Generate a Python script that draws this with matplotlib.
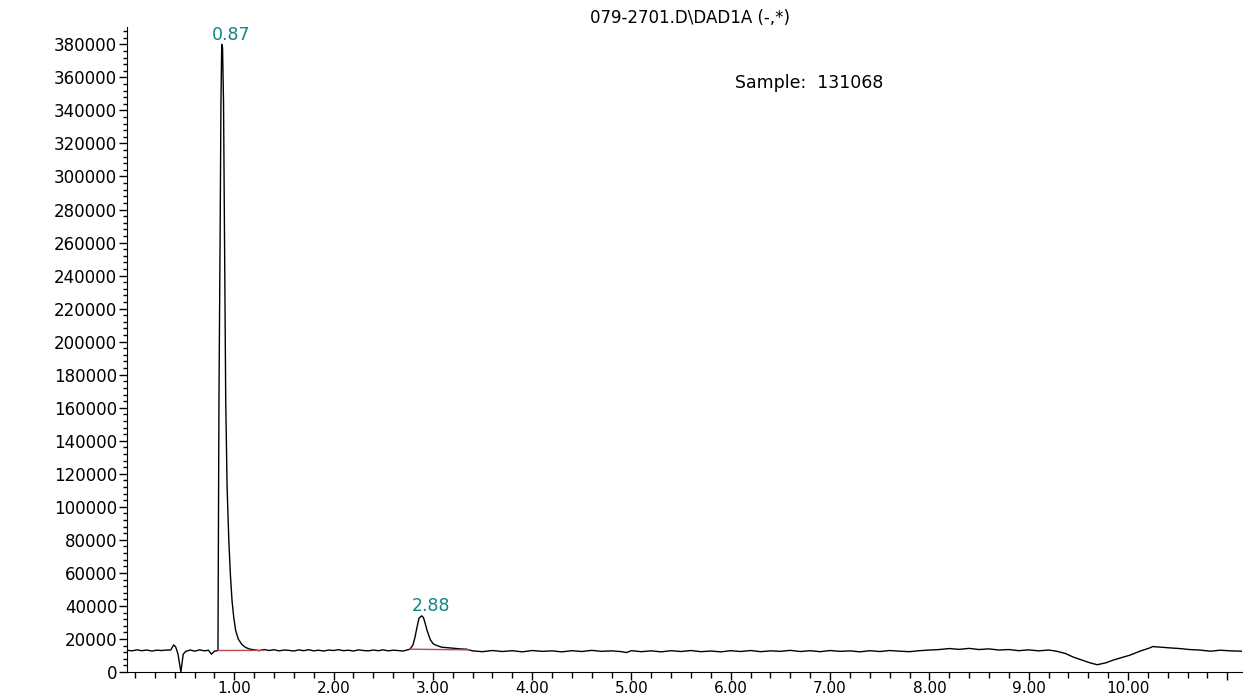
import matplotlib.pyplot as plt
from matplotlib.ticker import MultipleLocator

# chromatogram trace, piece by piece (time in min, signal)
t_front = [-0.08, -0.03, 0.02, 0.07, 0.12, 0.17, 0.22, 0.27, 0.32, 0.36, 0.39,
           0.41, 0.433, 0.463, 0.486, 0.514, 0.56, 0.6, 0.65, 0.7, 0.74, 0.77,
           0.80]
v_front = [13200, 12800, 13400, 12900, 13300, 12700, 13200, 13000, 13300,
           13300, 16400, 15200, 11000, 0, 10800, 12600, 13300, 12600, 13400,
           12800, 13200, 10800, 12600]

t_peak1 = [0.836, 0.846, 0.858, 0.866, 0.874, 0.882, 0.892, 0.902, 0.914,
           0.928, 0.945, 0.962, 0.978, 0.995, 1.014, 1.04, 1.075, 1.11, 1.158]
v_peak1 = [13000, 165000, 267000, 345000, 380000, 378000, 345000, 267000,
           165000, 112000, 80000, 58000, 43000, 33000, 25200, 20000, 16800,
           15000, 13800]

t_mid = [1.2, 1.25, 1.3, 1.35, 1.4, 1.45, 1.5, 1.55, 1.6, 1.65, 1.7, 1.75,
         1.8, 1.85, 1.9, 1.95, 2.0, 2.05, 2.1, 2.15, 2.2, 2.25, 2.3, 2.35,
         2.4, 2.45, 2.5, 2.55, 2.6, 2.65, 2.7, 2.74]
v_mid = [13500, 12900, 13600, 13000, 13500, 12800, 13300, 13100, 12700,
         13400, 12900, 13500, 12800, 13200, 12700, 13300, 13000, 13500, 12900,
         13200, 12700, 13400, 13000, 12800, 13300, 12900, 13400, 12800, 13200,
         13000, 12700, 13300]

t_peak2 = [2.77, 2.80, 2.82, 2.84, 2.86, 2.887, 2.905, 2.92, 2.94, 2.954,
           2.975, 3.004, 3.05, 3.09, 3.15, 3.205, 3.27, 3.34]
v_peak2 = [13800, 16500, 21000, 27000, 32500, 34000, 33000, 30000, 25500,
           23000, 19500, 17000, 15800, 15000, 14700, 14400, 14000, 13800]

t_tail = [3.4, 3.5, 3.6, 3.7, 3.8, 3.9,
          4.0, 4.1, 4.2, 4.3, 4.4, 4.5, 4.6, 4.7, 4.8, 4.9, 4.95,
          5.0, 5.1, 5.2, 5.3, 5.4, 5.5, 5.6, 5.7, 5.8, 5.9,
          6.0, 6.1, 6.2, 6.3, 6.4, 6.5, 6.6, 6.7, 6.8, 6.9,
          7.0, 7.1, 7.2, 7.3, 7.4, 7.5, 7.6, 7.7, 7.8, 7.9,
          8.0, 8.1, 8.2, 8.3, 8.4, 8.5, 8.6, 8.7, 8.8, 8.9,
          9.0, 9.1, 9.2]
v_tail = [12800, 12300, 13000, 12400, 12900, 12200,
          13000, 12500, 12800, 12200, 12900, 12400, 13100, 12500, 12800, 12300, 11800,
          12900, 12300, 12800, 12200, 12900, 12400, 13000, 12300, 12700, 12200,
          12900, 12400, 13000, 12300, 12800, 12500, 13100, 12400, 12900, 12300,
          13000, 12500, 12800, 12200, 12900, 12400, 13000, 12600, 12300, 12900,
          13300, 13600, 14200, 13700, 14300, 13600, 14000, 13300, 13600, 12900,
          13400, 12800, 13300]

t_dip = [9.28, 9.37, 9.45, 9.55, 9.62, 9.69, 9.78, 9.85, 9.93, 10.02, 10.12,
         10.22, 10.25, 10.33, 10.42, 10.52, 10.62, 10.72, 10.83, 10.93, 11.03,
         11.148]
v_dip = [12600, 11200, 9000, 6900, 5500, 4400, 5600, 7200, 8600, 10200, 12600,
         14600, 15400, 15000, 14600, 14200, 13600, 13300, 12600, 13200, 12800,
         12600]

# integration baselines (red)
base_t = [[0.836, 1.29], [2.77, 3.37]]
base_v = [[13000, 13100], [13800, 13400]]

# peak labels
peak_t = [0.874, 2.887]
peak_v = [380000, 34000]
peak_lbl = ['0.87', '2.88']

x_ticks = [1, 2, 3, 4, 5, 6, 7, 8, 9, 10, 11]
x_tick_labels = ['1.00', '2.00', '3.00', '4.00', '5.00', '6.00', '7.00',
                 '8.00', '9.00', '10.00', '']
y_ticks = list(range(0, 380001, 20000))

title = '079-2701.D\\DAD1A (-,*)'
sample = 'Sample:  131068'

time = t_front + t_peak1 + t_mid + t_peak2 + t_tail + t_dip
signal = v_front + v_peak1 + v_mid + v_peak2 + v_tail + v_dip

plt.rcParams['font.family'] = ['DejaVu Sans']

fig = plt.figure(figsize=(12.44, 7), dpi=100)
ax = fig.add_axes([127 / 1244, 28 / 700, 1115 / 1244, 645 / 700])

ax.plot(time, signal, color='black', lw=1.0)
for bt, bv in zip(base_t, base_v):
    ax.plot(bt, bv, color='#b84a4a', lw=1.0)

for t, v, s in zip(peak_t, peak_v, peak_lbl):
    ax.annotate(s, (t, v), xytext=(7, 0.5), textcoords='offset points',
                ha='center', va='bottom', color='#108585', fontsize=12.5)

ax.set_xlim(-0.08, 11.148)
ax.set_ylim(0, 390500)

ax.set_xticks(x_ticks)
ax.set_xticklabels(x_tick_labels)
ax.xaxis.set_minor_locator(MultipleLocator(0.2))
ax.set_yticks(y_ticks)
ax.set_yticklabels([str(v) for v in y_ticks])
ax.yaxis.set_minor_locator(MultipleLocator(4000))

ax.tick_params(axis='x', which='major', length=6, width=1, pad=0.5, labelsize=11)
ax.tick_params(axis='x', which='minor', length=4, width=1)
ax.tick_params(axis='y', which='major', length=6, width=1, pad=1, labelsize=12)
ax.tick_params(axis='y', which='minor', length=3, width=1)

for side in ['top', 'right']:
    ax.spines[side].set_visible(False)

fig.text(690 / 1244, 1 - 18 / 700, title, ha='center', va='center', fontsize=12)
fig.text(735 / 1244, 1 - 83 / 700, sample, ha='left', va='center', fontsize=12.5)

fig.savefig('out.png', dpi=100)
